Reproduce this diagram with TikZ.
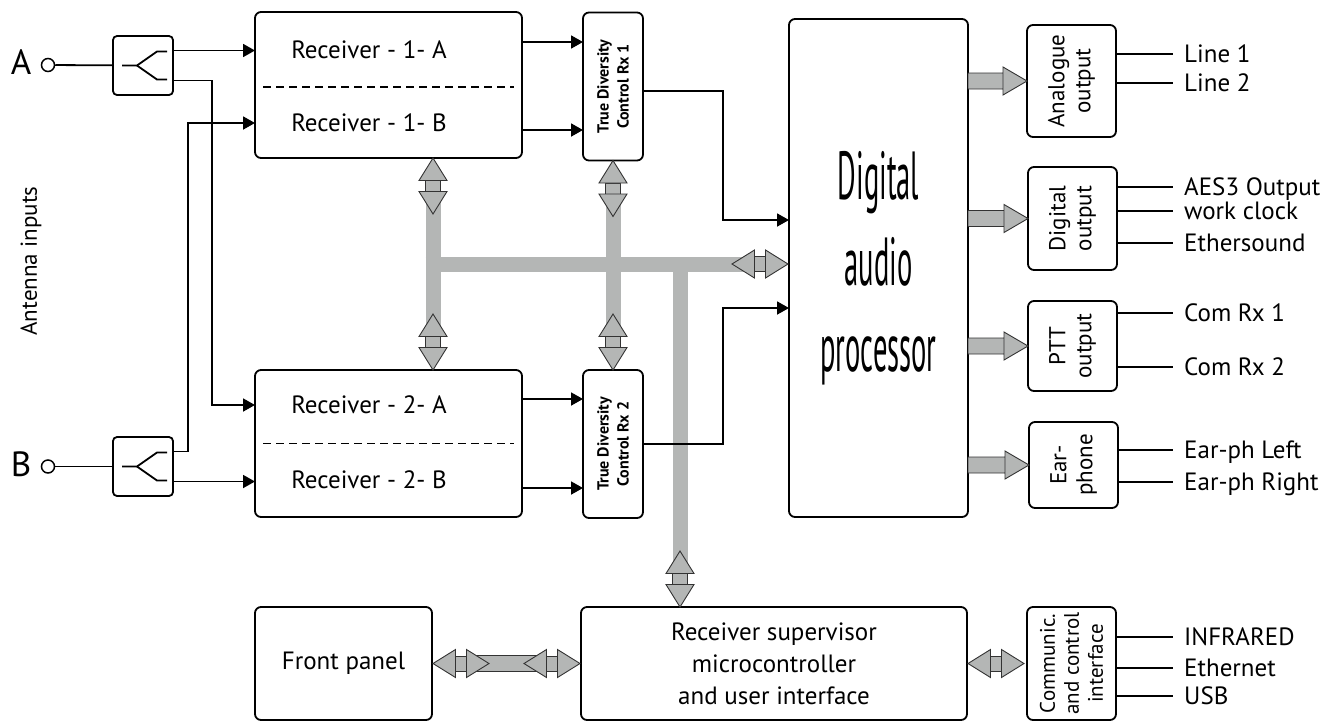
\documentclass[tikz,border=0pt]{standalone}
\usepackage{fontspec}
\setmainfont{PT Sans}
\newfontfamily\dapfont[FakeStretch=0.42]{PT Sans}
\usetikzlibrary{arrows.meta,calc}

\definecolor{busgray}{HTML}{B4B6B5}
\definecolor{edgegray}{HTML}{333333}

\tikzset{
  box/.style={draw, line width=1.8pt, rounded corners=6pt, inner sep=0pt, outer sep=0pt},
  wire/.style={line width=1.8pt},
  arr/.style={wire, -{Triangle[length=12pt,width=13pt]}},
  bus/.style={fill=busgray, draw=edgegray, line width=0.9pt, line join=miter},
  busline/.style={draw=busgray, line width=15pt, line cap=butt},
  lbl/.style={anchor=west, inner xsep=11pt, inner ysep=0pt, text height=17pt, text depth=0pt},
  boxtext/.style={rotate=90, align=center, font=\fontsize{23}{26}\selectfont},
  tdtext/.style={rotate=90, align=center, font=\bfseries\fontsize{16}{20}\selectfont},
  pics/biarrow/.style={code={
    \path[bus] (-7.5,-5.5) rectangle (7.5,5.5);
    \path[bus] (-14,-5.5) -- (14,-5.5) -- (0,-28) -- cycle;
    \path[bus] (-14,5.5) -- (14,5.5) -- (0,28) -- cycle;
  }},
}

% wide grey arrow from the processor towards an output block
\newcommand\outarrow[2]{%
  \path[bus] let \p1=(#1), \p2=(#2) in
    (\x1,\y1+8pt) rectangle (\x2-24pt,\y1-8pt)
    (\x2-24pt,\y1+14pt) -- (\x2,\y1) -- (\x2-24pt,\y1-14pt) -- cycle;}

\begin{document}
\begin{tikzpicture}[x=1pt,y=-1pt,font=\fontsize{25}{30}\selectfont]
\useasboundingbox (0,0) rectangle (1338,724);

% ---------- blocks ----------
\node[box, rounded corners=4pt, minimum width=60pt, minimum height=59pt] (splA) at (143,65.5) {};
\node[box, rounded corners=4pt, minimum width=60pt, minimum height=59pt] (splB) at (143,466.5) {};
\node[box, minimum width=267pt, minimum height=146pt] (rx1) at (388.5,85) {};
\node[box, minimum width=267pt, minimum height=147pt] (rx2) at (388.5,443.5) {};
\node[box, minimum width=60pt, minimum height=148pt] (td1) at (613,86.5) {};
\node[box, minimum width=60pt, minimum height=148pt] (td2) at (613,444) {};
\node[box, minimum width=179pt, minimum height=498pt] (dap) at (878.5,268) {};
\node[box, minimum width=89pt, minimum height=112pt] (ana) at (1071.5,81) {};
\node[box, minimum width=89pt, minimum height=103pt] (dig) at (1072.5,218.5) {};
\node[box, minimum width=89pt, minimum height=90pt] (ptt) at (1072.5,346) {};
\node[box, minimum width=89pt, minimum height=86pt] (ear) at (1073.5,465) {};
\node[box, minimum width=177pt, minimum height=113pt] (fp) at (343.5,663.5) {};
\node[box, minimum width=386pt, minimum height=113pt] (mc) at (774,663.5) {};
\node[box, minimum width=89pt, minimum height=113pt] (com) at (1071.5,663.5) {};

% antenna inputs
\node[circle, draw, line width=1.5pt, minimum size=13pt, inner sep=0pt] (antA) at (48,65) {};
\node[circle, draw, line width=1.5pt, minimum size=13pt, inner sep=0pt] (antB) at (48,466.5) {};
\node[font=\fontsize{35}{35}\selectfont] (labA) at (21,62) {A};
\node[font=\fontsize{35}{35}\selectfont] (labB) at (21,464) {B};
\node[rotate=90, font=\fontsize{23}{26}\selectfont] (antlbl) at (31,261) {Antenna inputs};

% splitter symbols
\draw[wire] ([xshift=-21pt]splA.center) -- ++(15,0) -- ++(20,-14) -- ++(10,0);
\draw[wire] ([xshift=-6pt]splA.center) -- ++(20,14) -- ++(10,0);
\draw[wire] ([xshift=-21pt]splB.center) -- ++(15,0) -- ++(20,-14) -- ++(10,0);
\draw[wire] ([xshift=-6pt]splB.center) -- ++(20,14) -- ++(10,0);

% receiver labels
\node (rx1a) at (369,50) {Receiver - 1- A};
\node (rx1b) at (369,123) {Receiver - 1- B};
\node (rx2a) at (369,405) {Receiver - 2- A};
\node (rx2b) at (369,480) {Receiver - 2- B};
\draw[line width=1.2pt, dash pattern=on 8pt off 5pt] ($(rx1.west)+(8,2)$) -- ($(rx1.east)+(-8,2)$);
\draw[line width=1.2pt, dash pattern=on 8pt off 5pt] ($(rx2.west)+(8,0)$) -- ($(rx2.east)+(-8,0)$);

% diversity controllers
\node[tdtext] (td1t) at (td1) {True Diversity\\Control Rx 1};
\node[tdtext] (td2t) at (td2) {True Diversity\\Control Rx 2};

% processor and output blocks
\node[font=\dapfont\fontsize{68}{86}\selectfont, align=center] (dapt) at (dap) {Digital\\audio\\processor};
\node[boxtext] (anat) at (ana) {Analogue\\output};
\node[boxtext] (digt) at (dig) {Digital\\output};
\node[boxtext] (pttt) at (ptt) {PTT\\output};
\node[boxtext] (eart) at (ear) {Ear-\\phone};
\node[rotate=90, align=center, font=\fontsize{21}{24}\selectfont] (comt) at (com) {Communic.\\and control\\interface};
\node (fpt) at (fp) {Front panel};
\node[align=center, font=\fontsize{25}{32}\selectfont] (mct) at (mc) {Receiver supervisor\\microcontroller\\and user interface};

% ---------- control bus ----------
\coordinate (busL) at (433,264);
\coordinate (busM) at (td1.south |- busL);
\coordinate (busR) at (680,264);
\draw[busline] ($(busL)+(-7.5,0)$) -- ($(dap.west |- busL)+(-40,0)$);
\draw[busline] ($(busL |- rx1.south)+(0,40)$) -- ($(busL |- rx2.north)+(0,-40)$);
\draw[busline] ($(busM |- td1.south)+(0,40)$) -- ($(busM |- td2.north)+(0,-40)$);
\draw[busline] (busR) -- ($(busR |- mc.north)+(0,-40)$);
\path[bus] ($(fp.east)+(40,-8)$) rectangle ($(mc.west)+(-40,8)$);

\pic at ($(busL |- rx1.south)+(0,28)$) {biarrow};
\pic at ($(td1.south)+(0,28)$) {biarrow};
\pic at ($(busL |- rx2.north)+(0,-28)$) {biarrow};
\pic at ($(td2.north)+(0,-28)$) {biarrow};
\pic at ($(busR |- mc.north)+(0,-28)$) {biarrow};
\pic[rotate=90] at ($(dap.west |- busL)+(-29,0)$) {biarrow};
\pic[rotate=90] at ($(fp.east)+(29,0)$) {biarrow};
\pic[rotate=90] at ($(mc.west)+(-29,0)$) {biarrow};
\pic[rotate=90] at ($(mc.east)+(29,0)$) {biarrow};

% ---------- signal paths ----------
\draw[wire] (antA) -- (splA);
\draw[wire] (antB) -- (splB);
\coordinate (sAu) at ($(splA.east)+(0,-15)$);
\coordinate (sAd) at ($(splA.east)+(0,15)$);
\coordinate (sBu) at ($(splB.east)+(0,-15)$);
\coordinate (sBd) at ($(splB.east)+(0,15)$);
\draw[arr] (sAu) -- (sAu -| rx1.west);
\draw[arr] (sAd) -- ++(39,0) |- (rx2.west |- rx2a);
\draw[arr] (sBu) -- ++(15,0) |- (rx1.west |- rx1b);
\draw[arr] (sBd) -- (sBd -| rx2.west);

\coordinate (r1u) at ($(rx1.east)+(0,-43)$);
\coordinate (r1d) at ($(rx1.east)+(0,45)$);
\coordinate (r2u) at ($(rx2.east)+(0,-44.5)$);
\coordinate (r2d) at ($(rx2.east)+(0,44.5)$);
\draw[arr] (r1u) -- (r1u -| td1.west);
\draw[arr] (r1d) -- (r1d -| td1.west);
\draw[arr] (r2u) -- (r2u -| td2.west);
\draw[arr] (r2d) -- (r2d -| td2.west);

\draw[arr] ($(td1.east)+(0,4.5)$) -- ++(80,0) |- ($(dap.west)+(0,-48)$);
\draw[arr] (td2.east) -- ++(80,0) |- ($(dap.west)+(0,40)$);

% processor outputs
\outarrow{dap.east |- ana}{ana.west}
\outarrow{dap.east |- dig}{dig.west}
\outarrow{dap.east |- ptt}{ptt.west}
\outarrow{dap.east |- ear}{ear.west}

% ---------- external connections ----------
\node[lbl] (l1) at (1173,54) {Line 1};
\node[lbl] (l2) at (1173,83) {Line 2};
\node[lbl] (d1) at (1173,187) {AES3 Output};
\node[lbl] (d2) at (1173,211) {work clock};
\node[lbl] (d3) at (1173,243) {Ethersound};
\node[lbl] (p1) at (1173,313) {Com Rx 1};
\node[lbl] (p2) at (1173,367) {Com Rx 2};
\node[lbl] (e1) at (1173,450) {Ear-ph Left};
\node[lbl] (e2) at (1173,482) {Ear-ph Right};
\node[lbl] (c1) at (1173,637) {INFRARED};
\node[lbl] (c2) at (1173,668) {Ethernet};
\node[lbl] (c3) at (1173,696) {USB};

\foreach \b/\l in {ana/l1,ana/l2,dig/d1,dig/d2,dig/d3,ptt/p1,ptt/p2,ear/e1,ear/e2,com/c1,com/c2,com/c3}
  \draw[wire] (\b.east |- \l.west) -- (\l.west);

\end{tikzpicture}
\end{document}
